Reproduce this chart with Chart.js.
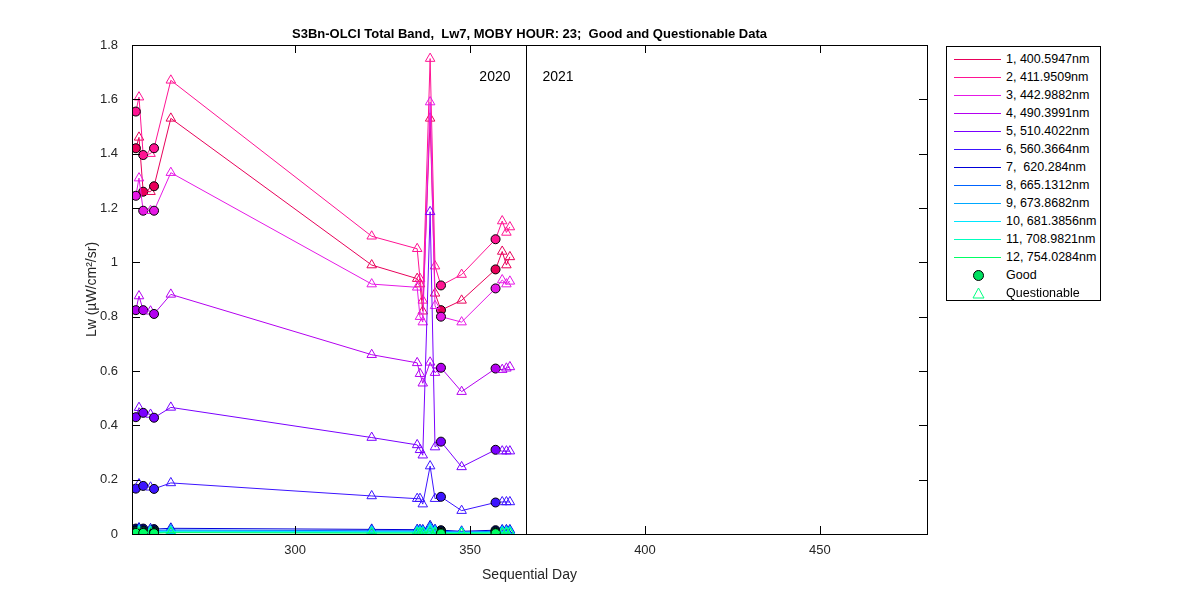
<!DOCTYPE html>
<html><head><meta charset="utf-8">
<script src="https://cdn.jsdelivr.net/npm/chart.js@4.4.1/dist/chart.umd.min.js"></script>
<style>
body{margin:0;background:#fff;font-family:Arial,"Liberation Sans",sans-serif;}
#wrap{position:relative;width:1200px;height:600px;}
#legend{position:absolute;left:946px;top:46px;width:155px;height:255px;border:1px solid #000;box-sizing:border-box;font-size:12.5px;background:#fff;}
.row{position:absolute;left:0;height:18px;line-height:18px;white-space:pre;}
.sw{position:absolute;left:7px;top:9px;width:47px;height:1px;}
.lb{position:absolute;left:59px;top:0;}
</style></head><body>
<div id="wrap"><canvas id="c" width="1200" height="600"></canvas><div id="legend"></div></div>
<script>
const days = [254.5,255.4,256.6,258.7,259.7,264.5,321.9,334.9,335.7,336.5,338.6,340.0,341.7,347.6,357.3,359.2,360.4,361.4];
const quality = ['G','Q','G','Q','G','Q','Q','Q','Q','Q','Q','Q','G','Q','G','Q','Q','Q'];
const bandLabels = ['1, 400.5947nm','2, 411.9509nm','3, 442.9882nm','4, 490.3991nm','5, 510.4022nm','6, 560.3664nm','7,  620.284nm','8, 665.1312nm','9, 673.8682nm','10, 681.3856nm','11, 708.9821nm','12, 754.0284nm'];
const bandColors = ['#e8005a','#ff1493','#e619e6','#b400f0','#7a00ff','#3c14ff','#0000d8','#0064ff','#00a8ff','#00e6ff','#00ffbe','#00ff64'];
const band1 = [1.42,1.46,1.26,1.26,1.28,1.53,0.99,0.94,0.92,0.82,1.53,0.886,0.824,0.86,0.974,1.04,0.99,1.02];
const band2 = [1.555,1.608,1.395,1.40,1.42,1.67,1.096,1.05,0.94,0.86,1.75,0.986,0.915,0.955,1.085,1.152,1.11,1.13];
const band3 = [1.245,1.31,1.19,1.19,1.19,1.33,0.92,0.908,0.80,0.78,1.59,0.84,0.80,0.78,0.904,0.935,0.92,0.93];
const band4 = [0.824,0.876,0.824,0.82,0.81,0.882,0.66,0.63,0.59,0.555,0.632,0.594,0.612,0.524,0.609,0.605,0.61,0.615];
const band5 = [0.43,0.465,0.446,0.44,0.428,0.466,0.355,0.328,0.31,0.29,1.186,0.32,0.34,0.247,0.31,0.305,0.305,0.305];
const band6 = [0.167,0.184,0.177,0.172,0.166,0.188,0.14,0.13,0.13,0.11,0.25,0.13,0.137,0.086,0.116,0.118,0.118,0.118];
const band7 = [0.02,0.022,0.02,0.019,0.018,0.021,0.017,0.016,0.016,0.015,0.03,0.016,0.014,0.01,0.014,0.015,0.015,0.015];
const band8 = [0.014,0.016,0.014,0.013,0.013,0.015,0.012,0.012,0.012,0.011,0.024,0.012,0.01,0.007,0.01,0.011,0.011,0.011];
const band9 = [0.011,0.013,0.011,0.011,0.01,0.012,0.01,0.01,0.01,0.009,0.02,0.01,0.008,0.006,0.008,0.009,0.009,0.009];
const band10 = [0.009,0.011,0.009,0.009,0.008,0.01,0.008,0.008,0.008,0.007,0.017,0.008,0.006,0.005,0.007,0.007,0.007,0.007];
const band11 = [0.006,0.007,0.006,0.006,0.005,0.007,0.005,0.005,0.005,0.005,0.012,0.005,0.004,0.003,0.004,0.005,0.005,0.005];
const band12 = [0.004,0.005,0.004,0.004,0.003,0.005,0.003,0.003,0.003,0.003,0.008,0.003,0.002,0.002,0.003,0.003,0.003,0.003];
const bands = [band1,band2,band3,band4,band5,band6,band7,band8,band9,band10,band11,band12];
const yTicks = [0,0.2,0.4,0.6,0.8,1,1.2,1.4,1.6,1.8];
const xTicks = [300,350,400,450];
const yearLine = 366;
const yearLabels = ['2020','2021'];
const chartTitle = 'S3Bn-OLCI Total Band,  Lw7, MOBY HOUR: 23;  Good and Questionable Data';
const xTitle = 'Sequential Day';
const yTitle = 'Lw (µW/cm²/sr)';

const datasets = bands.map((b,i)=>({
  label: bandLabels[i],
  data: b.map((v,j)=>({x:days[j],y:v})),
  borderColor: bandColors[i], borderWidth:1,
  pointStyle: quality.map(q=>q==='G'?'circle':'triangle'),
  pointRadius: quality.map(q=>q==='G'?4.5:5.5),
  pointBackgroundColor: quality.map(q=>q==='G'?bandColors[i]:'rgba(255,255,255,0)'),
  pointBorderColor: quality.map(q=>q==='G'?'#000':bandColors[i]),
  pointBorderWidth: 1, tension:0
})).reverse();

const deco = {id:'deco', afterDraw(ch){
  const {ctx,chartArea:a,scales:{x,y}}=ch;
  ctx.save();
  ctx.strokeStyle='#000'; ctx.lineWidth=1;
  ctx.strokeRect(a.left+0.5,a.top+0.5,a.right-a.left,a.bottom-a.top);
  const xl=Math.round(x.getPixelForValue(yearLine))+0.5;
  ctx.beginPath(); ctx.moveTo(xl,a.top); ctx.lineTo(xl,a.bottom); ctx.stroke();
  ctx.beginPath();
  xTicks.forEach(t=>{const p=Math.round(x.getPixelForValue(t))+0.5; ctx.moveTo(p,a.bottom);ctx.lineTo(p,a.bottom-8);ctx.moveTo(p,a.top);ctx.lineTo(p,a.top+8);});
  yTicks.forEach(t=>{const p=Math.round(y.getPixelForValue(t))+0.5; ctx.moveTo(a.left,p);ctx.lineTo(a.left+8,p);ctx.moveTo(a.right,p);ctx.lineTo(a.right-8,p);});
  ctx.stroke();
  ctx.fillStyle='#000'; ctx.font='14px Arial'; ctx.textBaseline='middle';
  ctx.textAlign='right'; ctx.fillText(yearLabels[0],xl-16,a.top+32);
  ctx.textAlign='left'; ctx.fillText(yearLabels[1],xl+16,a.top+32);
  ctx.textAlign='center';
  ctx.font='bold 13px Arial';
  ctx.fillText(chartTitle,(a.left+a.right)/2,34);
  ctx.font='14px Arial';
  ctx.fillStyle='#262626';
  ctx.fillText(xTitle,(a.left+a.right)/2,575);
  ctx.translate(92,(a.top+a.bottom)/2); ctx.rotate(-Math.PI/2);
  ctx.fillText(yTitle,0,0);
  ctx.restore();
}};

new Chart(document.getElementById('c'),{
  type:'line', data:{datasets},
  options:{responsive:false,animation:false,
    layout:{padding:{left:0,right:273,top:45,bottom:0}},
    plugins:{legend:{display:false},tooltip:{enabled:false},title:{display:false}},
    scales:{
      x:{type:'linear',min:253.4,max:480.6,
        afterBuildTicks(s){s.ticks=xTicks.map(v=>({value:v}));},
        afterFit(s){s.height=66;},
        grid:{display:false},border:{display:false},
        ticks:{color:'#262626',font:{size:13,family:'Arial'},padding:1,maxRotation:0}},
      y:{type:'linear',min:0,max:1.8,
        afterBuildTicks(s){s.ticks=yTicks.map(v=>({value:v}));},
        afterFit(s){s.width=132;},
        grid:{display:false},border:{display:false},
        ticks:{color:'#262626',font:{size:13,family:'Arial'},padding:6,callback:v=>String(+v.toFixed(1))}}
    }},
  plugins:[deco]
});

const lg=document.getElementById('legend');
bandLabels.forEach((l,i)=>{
  lg.insertAdjacentHTML('beforeend',`<div class="row" style="top:${3+i*18}px;width:150px"><div class="sw" style="background:${bandColors[i]}"></div><div class="lb">${l}</div></div>`);
});
lg.insertAdjacentHTML('beforeend',`<div class="row" style="top:${3+12*18}px;width:150px"><div style="position:absolute;left:26px;top:4px;width:9px;height:9px;border-radius:50%;background:#00e060;border:1px solid #000"></div><div class="lb">Good</div></div>`);
lg.insertAdjacentHTML('beforeend',`<div class="row" style="top:${3+13*18}px;width:150px"><svg style="position:absolute;left:25px;top:3px" width="13" height="12"><polygon points="6.5,1 12,11 1,11" fill="none" stroke="#00ff80"/></svg><div class="lb">Questionable</div></div>`);
</script></body></html>
